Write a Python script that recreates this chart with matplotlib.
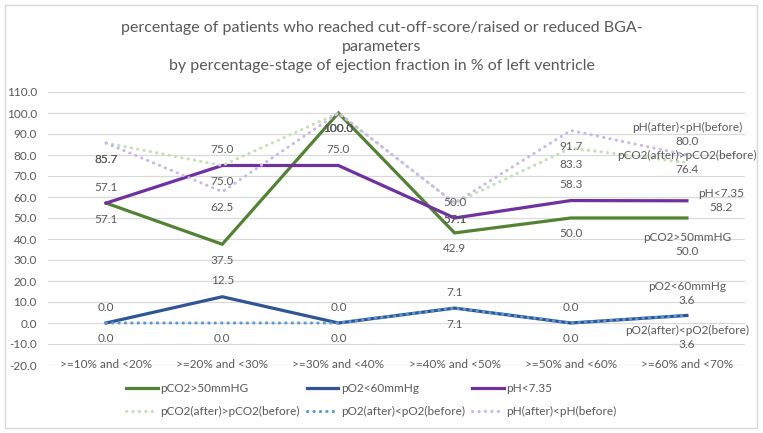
import matplotlib
matplotlib.use("Agg")
import matplotlib.pyplot as plt
from matplotlib.patches import Rectangle

plt.rcParams['font.family'] = ['Lato', 'DejaVu Sans']

# data
categories = [">=10% and <20%", ">=20% and <30%", ">=30% and <40%",
              ">=40% and <50%", ">=50% and <60%", ">=60% and <70%"]
pco2_high = [57.1, 37.5, 100.0, 42.9, 50.0, 50.0]
po2_low = [0.0, 12.5, 0.0, 7.1, 0.0, 3.6]
ph_low = [57.1, 75.0, 75.0, 50.0, 58.3, 58.2]
pco2_raised = [85.7, 75.0, 100.0, 57.1, 83.3, 76.4]
po2_reduced = [0.0, 0.0, 0.0, 7.1, 0.0, 3.6]
ph_reduced = [85.7, 62.5, 100.0, 57.1, 91.7, 80.0]

series_names = ["pCO2>50mmHG", "pO2<60mmHg", "pH<7.35",
                "pCO2(after)>pCO2(before)", "pO2(after)<pO2(before)",
                "pH(after)<pH(before)"]
series_values = [pco2_high, po2_low, ph_low, pco2_raised, po2_reduced, ph_reduced]

colors = ["#548235", "#2F5597", "#7030A0", "#C5E0B4", "#5B9BD5", "#C9B8F2"]
dotted = [False, False, False, True, True, True]
# label offset (points) for regular points, and (dx, dy, ha) for last point
label_dy = [-11.5, 11.5, 11.5, -11.5, -11.5, -11.5]
last_label = [(0, -19, 'center'), (0, 16, 'center'), (8, 0, 'left'),
              (0, 0, 'center'), (0, -16, 'center'), (0, 15, 'center')]

txt_color = "#595959"
W, H = 763, 433
fig = plt.figure(figsize=(W / 100, H / 100), dpi=100)
ax = fig.add_axes([48 / W, 1 - 365 / H, (745 - 48) / W, (365 - 92) / H])

x = list(range(len(categories)))
handles = []
for name, vals, c, dot, dy, last in zip(series_names, series_values, colors,
                                         dotted, label_dy, last_label):
    if dot:
        ln, = ax.plot(x, vals, color=c, lw=2.2, linestyle=(0, (0.1, 2.0)),
                      dash_capstyle='round', label=name)
    else:
        ln, = ax.plot(x, vals, color=c, lw=2.3, label=name,
                      solid_joinstyle='miter')
    handles.append(ln)
    for i, v in enumerate(vals):
        if i == len(vals) - 1:
            dx, ddy, ha = last
            ax.annotate(f"{name}\n{v:.1f}", (i, v), xytext=(dx, ddy),
                        textcoords='offset points', ha=ha, va='center',
                        fontsize=8.5, color=txt_color, linespacing=1.35,
                        multialignment='center')
        else:
            ax.annotate(f"{v:.1f}", (i, v), xytext=(0, dy),
                        textcoords='offset points', ha='center', va='center',
                        fontsize=8.5, color=txt_color)

ax.set_xlim(-0.5, len(categories) - 0.5)
ax.set_ylim(-20, 110)
ax.set_yticks(range(-20, 111, 10))
ax.set_yticklabels([f"{t:.1f}" for t in range(-20, 111, 10)])
ax.yaxis.grid(True, color="#D9D9D9", lw=0.9)
ax.set_axisbelow(True)
ax.tick_params(axis='y', length=0, labelsize=8.5, labelcolor=txt_color, pad=8)
ax.set_xticks([])
for s in ax.spines.values():
    s.set_visible(False)
for i, cat in enumerate(categories):
    ax.text(i, -20, cat, ha='center', va='center', fontsize=8.5, color=txt_color)

fig.text(0.5, 1 - 47 / H,
         "percentage of patients who reached cut-off-score/raised or reduced BGA-\n"
         "parameters\nby percentage-stage of ejection fraction in % of left ventricle",
         ha='center', va='center', fontsize=11.5, color=txt_color, linespacing=1.45)

order = [0, 3, 1, 4, 2, 5]
leg = fig.legend([handles[k] for k in order], [series_names[k] for k in order],
                 loc='center', bbox_to_anchor=(371 / W, 1 - 400 / H), ncol=3,
                 frameon=False, fontsize=8.5, handlelength=2.7, columnspacing=0.6,
                 handletextpad=0.2, labelspacing=1.0, labelcolor=txt_color)

fig.patches.append(Rectangle((5 / W, 5 / H), 752 / W, 423 / H, transform=fig.transFigure,
                             fill=False, edgecolor="#D9D9D9", lw=1))

fig.savefig("out.png", dpi=100)
